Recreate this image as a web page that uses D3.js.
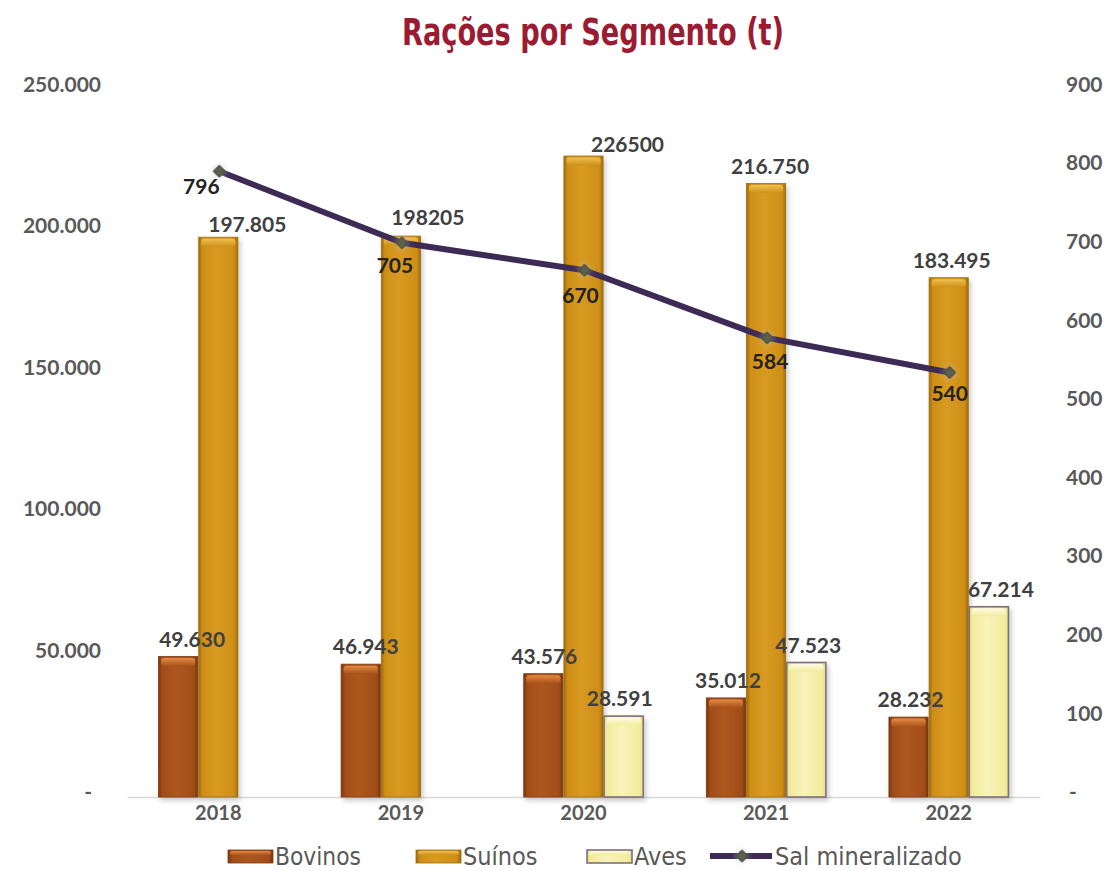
<!DOCTYPE html>
<html>
<head>
<meta charset="utf-8">
<script src="https://cdn.jsdelivr.net/npm/d3@7"></script>
<style>
  body { margin: 0; background: #fff; }
  svg { display: block; }
</style>
</head>
<body>
<svg id="chart" width="1109" height="871"></svg>
<script>
// data
var years = ["2018", "2019", "2020", "2021", "2022"];
var bovinos = [49630, 46943, 43576, 35012, 28232];
var suinos = [197805, 198205, 226500, 216750, 183495];
var aves = [null, null, 28591, 47523, 67214];
var sal = [796, 705, 670, 584, 540];
// labels exactly as they are printed on the chart
var bovinos_labels = ["49.630", "46.943", "43.576", "35.012", "28.232"];
var suinos_labels = ["197.805", "198205", "226500", "216.750", "183.495"];
var aves_labels = ["", "", "28.591", "47.523", "67.214"];
var sal_labels = ["796", "705", "670", "584", "540"];
var left_ticks = [0, 50000, 100000, 150000, 200000, 250000];
var right_ticks = [0, 100, 200, 300, 400, 500, 600, 700, 800, 900];
var series_names = ["Bovinos", "Suínos", "Aves", "Sal mineralizado"];

// label nudges (the labels were dragged around in the original)
var suinos_dx = [29, 27, 44, 4, 3];
var suinos_dy = [-5, -11, -4, -10, -10];
var bovinos_dx = [14, 5, 1, 2, 2];
var aves_dx = [0, 0, -4, 2, 12];
var sal_dx = [-17, -6, -3, 4, 1];
var sal_dy = [23, 30, 33, 31, 28];

var svg = d3.select("#chart");
var defs = svg.append("defs");
var NARROW = "'Liberation Sans Narrow', 'DejaVu Sans Condensed', 'Arial Narrow', sans-serif";
var BOLD = "Lato, 'Open Sans', sans-serif";

function h_gradient(id, edge, mid, light){
	var g = defs.append("linearGradient").attr("id", id)
		.attr("x1", "0%").attr("x2", "100%").attr("y1", "0%").attr("y2", "0%");
	[[0, edge], [0.1, mid], [0.45, light], [0.9, mid], [1, edge]].forEach(function(s){
		g.append("stop").attr("offset", s[0]).attr("stop-color", s[1]);
	});
}
function v_gradient(id, top, bottom){
	var g = defs.append("linearGradient").attr("id", id)
		.attr("x1", "0%").attr("x2", "0%").attr("y1", "0%").attr("y2", "100%");
	g.append("stop").attr("offset", 0).attr("stop-color", top);
	g.append("stop").attr("offset", 1).attr("stop-color", bottom);
}
h_gradient("g_bov", "#7a360e", "#a24d19", "#ad5720");
h_gradient("g_sui", "#a06c0c", "#cf8f17", "#d89a22");
h_gradient("g_ave", "#e8df86", "#f3ec9c", "#f8f3bc");
v_gradient("b_bov", "#e68a44", "#a9531c");
v_gradient("b_sui", "#f0c052", "#cf9017");
v_gradient("b_ave", "#fffbe2", "#f3ec9c");

var shadow = defs.append("filter").attr("id", "shadow")
	.attr("x", "-20%").attr("y", "-5%").attr("width", "150%").attr("height", "115%");
shadow.append("feDropShadow").attr("dx", 2).attr("dy", 3).attr("stdDeviation", 2.5)
	.attr("flood-color", "#000").attr("flood-opacity", 0.22);

var glow = defs.append("filter").attr("id", "glow")
	.attr("x", "-100%").attr("y", "-100%").attr("width", "300%").attr("height", "300%");
glow.append("feDropShadow").attr("dx", 0).attr("dy", 0).attr("stdDeviation", 3)
	.attr("flood-color", "#bbb").attr("flood-opacity", 0.7);

var styles = {
	bov: {fill: "url(#g_bov)", bevel: "url(#b_bov)", stroke: "#7a3a12"},
	sui: {fill: "url(#g_sui)", bevel: "url(#b_sui)", stroke: "#9c6d12"},
	ave: {fill: "url(#g_ave)", bevel: "url(#b_ave)", stroke: "#7d6f80"}
};

// scales
var x = d3.scaleBand().domain(years).range([127, 1040]).paddingInner(0.34).paddingOuter(0.17);
var x1 = d3.scaleBand().domain(["bov", "sui", "ave"]).range([0, x.bandwidth()]);
var y = d3.scaleLinear().domain([0, 250000]).range([797, 89.5]);
var y2 = d3.scaleLinear().domain([0, 900]).range([797, 89.5]);

// title
var title = svg.append("text")
	.attr("x", 593).attr("y", 45)
	.attr("text-anchor", "middle")
	.style("font-family", NARROW).style("font-weight", "bold")
	.style("font-size", "37px").style("fill", "#9b1c32")
	.text("Rações por Segmento (t)");
if(title.node().getComputedTextLength() > 382){
	title.attr("textLength", 382).attr("lengthAdjust", "spacingAndGlyphs");
}

// axes
var left_axis = d3.axisLeft(y).tickValues(left_ticks).tickSize(0)
	.tickFormat(function(d){ return d === 0 ? "-" : d3.format(",")(d).replace(/,/g, "."); });
var gl = svg.append("g").attr("transform", "translate(101,-5)").call(left_axis);
gl.select(".domain").remove();
gl.selectAll("text").attr("x", 0)
	.style("font-family", BOLD).style("font-weight", "bold").style("font-size", "21px").style("fill", "#595959")
	.filter(function(d){ return d === 0; }).attr("x", -9);

var right_axis = d3.axisRight(y2).tickValues(right_ticks).tickSize(0)
	.tickFormat(function(d){ return d === 0 ? "-" : d; });
var gr = svg.append("g").attr("transform", "translate(1066,-5)").call(right_axis);
gr.select(".domain").remove();
gr.selectAll("text").attr("x", 0)
	.style("font-family", BOLD).style("font-weight", "bold").style("font-size", "21px").style("fill", "#595959")
	.filter(function(d){ return d === 0; }).attr("x", 3);

var bottom_axis = d3.axisBottom(x).tickSize(0).tickPadding(9);
var gb = svg.append("g").attr("transform", "translate(0," + y(0) + ")").call(bottom_axis);
gb.select(".domain").attr("stroke", "#d9d9d9").attr("stroke-width", 1.5);
gb.selectAll("text")
	.style("font-family", BOLD).style("font-weight", "bold").style("font-size", "20px").style("fill", "#595959");

// bars
var rows = years.map(function(yr, i){
	return {year: yr, i: i, bars: [
		{key: "bov", v: bovinos[i], label: bovinos_labels[i], dx: bovinos_dx[i], dy: -10},
		{key: "sui", v: suinos[i], label: suinos_labels[i], dx: suinos_dx[i], dy: suinos_dy[i]},
		{key: "ave", v: aves[i], label: aves_labels[i], dx: aves_dx[i], dy: -10}
	].filter(function(b){ return b.v != null; })};
});

var groups = svg.append("g").selectAll("g.year").data(rows).enter().append("g")
	.attr("class", "year")
	.attr("transform", function(d){ return "translate(" + x(d.year) + ",0)"; });

var bar = groups.selectAll("g.bar").data(function(d){ return d.bars; }).enter().append("g")
	.attr("class", "bar").attr("filter", "url(#shadow)");
bar.append("rect")
	.attr("x", function(d){ return x1(d.key) + 0.5; })
	.attr("y", function(d){ return y(d.v); })
	.attr("width", x1.bandwidth() - 1)
	.attr("height", function(d){ return y(0) - y(d.v); })
	.attr("fill", function(d){ return styles[d.key].fill; })
	.attr("stroke", function(d){ return styles[d.key].stroke; })
	.attr("stroke-width", function(d){ return d.key === "ave" ? 1.6 : 0.8; });
bar.append("rect")
	.attr("x", function(d){ return x1(d.key) + 3; })
	.attr("y", function(d){ return y(d.v) + 1.5; })
	.attr("width", x1.bandwidth() - 6)
	.attr("height", 8).attr("rx", 3)
	.attr("fill", function(d){ return styles[d.key].bevel; });

groups.selectAll("text.val").data(function(d){ return d.bars; }).enter().append("text")
	.attr("class", "val")
	.attr("x", function(d){ return x1(d.key) + x1.bandwidth() / 2 + d.dx; })
	.attr("y", function(d){ return y(d.v) + d.dy; })
	.attr("text-anchor", "middle")
	.style("font-family", BOLD).style("font-weight", "bold").style("font-size", "21px").style("fill", "#404040")
	.text(function(d){ return d.label; });

// line
var pts = years.map(function(yr, i){ return {year: yr, v: sal[i], label: sal_labels[i], dx: sal_dx[i], dy: sal_dy[i]}; });
var line = d3.line()
	.x(function(d){ return x(d.year) + x.bandwidth() / 2 + 1; })
	.y(function(d){ return y2(d.v); });
svg.append("path").datum(pts)
	.attr("d", line)
	.attr("fill", "none").attr("stroke", "#3d2a55").attr("stroke-width", 6)
	.attr("stroke-linejoin", "round");

var marker = d3.symbol().type(d3.symbolSquare).size(70);
svg.append("g").selectAll("path").data(pts).enter().append("path")
	.attr("d", marker)
	.attr("transform", function(d){ return "translate(" + (x(d.year) + x.bandwidth() / 2 + 1) + "," + y2(d.v) + ") rotate(45)"; })
	.attr("fill", "#5b6150").attr("stroke", "#3b3f33").attr("stroke-width", 1)
	.attr("filter", "url(#glow)");

svg.append("g").selectAll("text").data(pts).enter().append("text")
	.attr("x", function(d){ return x(d.year) + x.bandwidth() / 2 + d.dx; })
	.attr("y", function(d){ return y2(d.v) + d.dy; })
	.attr("text-anchor", "middle")
	.style("font-family", BOLD).style("font-weight", "bold").style("font-size", "21px").style("fill", "#222")
	.text(function(d){ return d.label; });

// legend
var legend_x = [228, 416, 587, 710];
var legend_w = [86, 78, 54, 189];
var leg = svg.append("g").selectAll("g").data(series_names).enter().append("g")
	.attr("transform", function(d, i){ return "translate(" + legend_x[i] + ",856)"; });
leg.each(function(name, i){
	var g = d3.select(this);
	var key = ["bov", "sui", "ave"][i];
	if(key){
		g.append("rect").attr("x", 0).attr("y", -6).attr("width", 45).attr("height", 13)
			.attr("fill", styles[key].fill).attr("stroke", styles[key].stroke)
			.attr("stroke-width", key === "ave" ? 1.6 : 0.8);
		g.append("rect").attr("x", 2).attr("y", -5).attr("width", 41).attr("height", 4).attr("rx", 2)
			.attr("fill", styles[key].bevel);
	} else {
		g.append("line").attr("x1", 0).attr("x2", 62).attr("y1", 0).attr("y2", 0)
			.attr("stroke", "#3d2a55").attr("stroke-width", 6);
		g.append("path").attr("d", marker).attr("transform", "translate(32,0) rotate(45)")
			.attr("fill", "#5b6150").attr("stroke", "#3b3f33").attr("filter", "url(#glow)");
	}
	var t = g.append("text").attr("x", key ? 47 : 65).attr("y", 0).attr("dy", "0.35em")
		.style("font-family", NARROW).style("font-size", "25px").style("fill", "#595959")
		.text(name);
	if(t.node().getComputedTextLength() > legend_w[i]){
		t.attr("textLength", legend_w[i]).attr("lengthAdjust", "spacingAndGlyphs");
	}
});
</script>
</body>
</html>
